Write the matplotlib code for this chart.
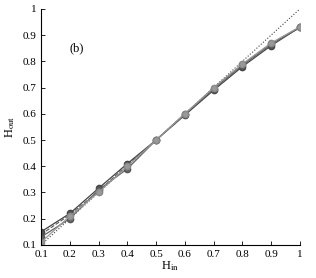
import numpy as np
import matplotlib
matplotlib.use('Agg')
import matplotlib.pyplot as plt

plt.rcParams['font.family'] = 'Liberation Serif'
plt.rcParams['mathtext.fontset'] = 'stix'

h_in = [0.1, 0.2, 0.3, 0.4, 0.5, 0.6, 0.7, 0.8, 0.9, 1.0]
h_out_a = [0.150, 0.220, 0.316, 0.410, 0.500, 0.595, 0.690, 0.780, 0.860, 0.930]
h_out_b = [0.130, 0.200, 0.310, 0.390, 0.500, 0.600, 0.695, 0.785, 0.865, 0.930]
h_out_c = [0.110, 0.210, 0.300, 0.400, 0.500, 0.600, 0.700, 0.790, 0.870, 0.932]
h_out_d = [0.140, 0.215, 0.305, 0.405, 0.500, 0.598, 0.698, 0.788, 0.868, 0.928]
diag = [0.1, 1.0]

fig = plt.figure(figsize=(3.16, 2.78), dpi=100)
ax = fig.add_axes([0.13, 0.119, 0.819, 0.849])

ax.plot(diag, diag, ':', color='#444444', lw=0.8)
ax.plot(h_in, h_out_d, '--', color='#555555', lw=0.8)
ax.plot(h_in, h_out_a, '-o', color='#444444', lw=0.9, ms=4.5, mfc='#555555', mec='#444444')
ax.plot(h_in, h_out_b, '-o', color='#666666', lw=0.9, ms=4.5, mfc='#666666', mec='#555555')
ax.plot(h_in, h_out_c, '-o', color='#999999', lw=0.9, ms=4.5, mfc='#999999', mec='#888888')

ax.set_xlim(0.1, 1.0)
ax.set_ylim(0.1, 1.0)
ax.set_xticks(np.arange(1, 11) / 10)
ax.set_yticks(np.arange(1, 11) / 10)
ax.set_xticklabels(['0.1', '0.2', '0.3', '0.4', '0.5', '0.6', '0.7', '0.8', '0.9', '1'])
ax.set_yticklabels(['0.1', '0.2', '0.3', '0.4', '0.5', '0.6', '0.7', '0.8', '0.9', '1'])
ax.tick_params(direction='in', length=3, labelsize=8, width=0.6)
for s in ['top', 'right']:
    ax.spines[s].set_visible(False)
for s in ['left', 'bottom']:
    ax.spines[s].set_linewidth(0.8)

ax.set_xlabel('H$_{\\mathrm{in}}$', fontsize=9, labelpad=0)
ax.set_ylabel('H$_{\\mathrm{out}}$', fontsize=9, labelpad=4)
ax.text(0.2, 0.84, '(b)', fontsize=9)

fig.savefig('out.png', dpi=100)
